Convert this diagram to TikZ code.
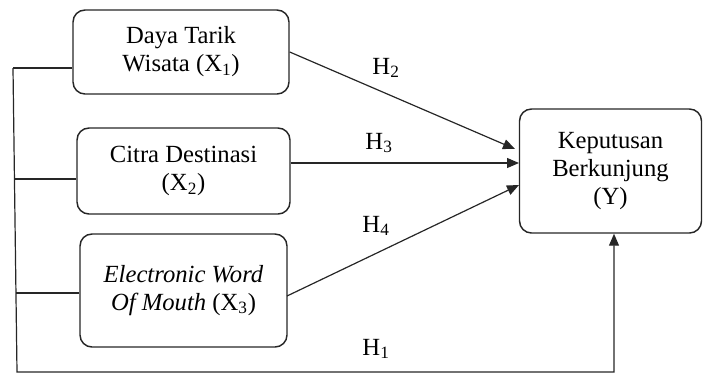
\documentclass[tikz,border=0pt]{standalone}
\usepackage{fontspec}
\setmainfont{Liberation Serif}
\usetikzlibrary{arrows.meta}
\begin{document}
\begin{tikzpicture}[x=0.75pt,y=-0.75pt,
  box/.style={draw=black!85,line width=1.1pt,rounded corners=9pt,align=center,inner sep=0pt,
    font=\fontsize{18.5}{21}\selectfont},
  conn/.style={draw=black!85,line width=0.9pt},
  arr/.style={conn,-{Triangle[length=9pt,width=7.5pt]}},
  lbl/.style={font=\fontsize{18.5}{21}\selectfont,inner sep=0pt}]
\useasboundingbox (0,0) rectangle (703,376);
\node[box,minimum width=162pt,minimum height=63pt] (b1) at (181,52) {Daya Tarik\\Wisata (X\textsubscript{1})};
\node[box,minimum width=159.75pt,minimum height=64.5pt] (b2) at (183.5,171) {Citra Destinasi\\(X\textsubscript{2})};
\node[box,minimum width=155.25pt,minimum height=84.75pt] (b3) at (183.5,290.5) {\textit{Electronic Word}\\\textit{Of Mouth} (X\textsubscript{3})};
\node[box,minimum width=136.5pt,minimum height=93pt] (y) at (610.5,171) {Keputusan\\Berkunjung\\(Y)};
\coordinate (t2) at (515,149);
\coordinate (t3) at (519,163);
\coordinate (t4) at (519,185);
\coordinate (s4) at (287,296);
\coordinate (j1) at (13,68);
\coordinate (j2) at (15,179);
\coordinate (j3) at (16,293);
\coordinate (c) at (17,372);
\coordinate (d) at (614,372);
\draw[arr] (b1.east) -- (t2);
\draw[arr] (b2.east |- t3) -- (t3);
\draw[arr] (s4) -- (t4);
\draw[conn] (j1) -- (b1.west |- j1);
\draw[conn] (j2) -- (b2.west |- j2);
\draw[conn] (j3) -- (b3.west |- j3);
\draw[arr] (j1) -- (c) -- (d) -- (d |- y.south);
\node[lbl] (h2) at (386,68) {H\textsubscript{2}};
\node[lbl] (h3) at (379,143) {H\textsubscript{3}};
\node[lbl] (h4) at (376,226) {H\textsubscript{4}};
\node[lbl] (h1) at (376,349) {H\textsubscript{1}};
\end{tikzpicture}
\end{document}
